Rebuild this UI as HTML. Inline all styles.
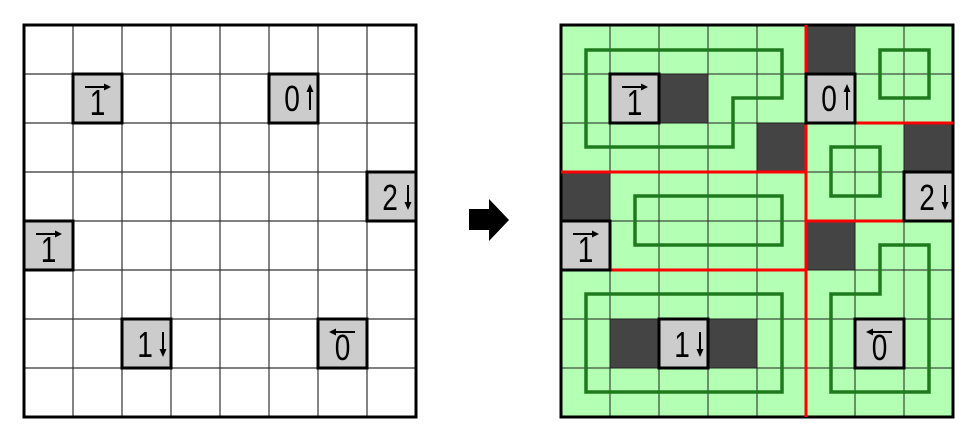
<!DOCTYPE html>
<html><head><style>
html,body{margin:0;padding:0;background:#fff;width:976px;height:440px;overflow:hidden}
text{font-family:"Liberation Sans",sans-serif;font-size:36px;fill:#000}
</style></head><body>
<svg width="976" height="440" viewBox="0 0 976 440" xmlns="http://www.w3.org/2000/svg">
<!-- LEFT GRID -->
<g stroke="#333" stroke-width="1.2">
<line x1="73" y1="25" x2="73" y2="417"/><line x1="122" y1="25" x2="122" y2="417"/><line x1="171" y1="25" x2="171" y2="417"/><line x1="220" y1="25" x2="220" y2="417"/><line x1="269" y1="25" x2="269" y2="417"/><line x1="318" y1="25" x2="318" y2="417"/><line x1="367" y1="25" x2="367" y2="417"/>
<line x1="24" y1="74" x2="416" y2="74"/><line x1="24" y1="123" x2="416" y2="123"/><line x1="24" y1="172" x2="416" y2="172"/><line x1="24" y1="221" x2="416" y2="221"/><line x1="24" y1="270" x2="416" y2="270"/><line x1="24" y1="319" x2="416" y2="319"/><line x1="24" y1="368" x2="416" y2="368"/>
</g>
<rect x="24" y="25" width="392" height="392" fill="none" stroke="#000" stroke-width="3"/>

<!-- RIGHT GRID -->
<rect x="561" y="25" width="392" height="392" fill="#b3ffb3"/>
<g fill="#444">
<rect x="659" y="74" width="49" height="49"/><rect x="757" y="123" width="49" height="49"/><rect x="561" y="172" width="49" height="49"/><rect x="806" y="25" width="49" height="49"/><rect x="904" y="123" width="49" height="49"/><rect x="806" y="221" width="49" height="49"/><rect x="610" y="319" width="49" height="49"/><rect x="708" y="319" width="49" height="49"/>
</g>
<g stroke="#222" stroke-width="1">
<line x1="610" y1="25" x2="610" y2="417"/><line x1="659" y1="25" x2="659" y2="417"/><line x1="708" y1="25" x2="708" y2="417"/><line x1="757" y1="25" x2="757" y2="417"/><line x1="806" y1="25" x2="806" y2="417"/><line x1="855" y1="25" x2="855" y2="417"/><line x1="904" y1="25" x2="904" y2="417"/>
<line x1="561" y1="74" x2="953" y2="74"/><line x1="561" y1="123" x2="953" y2="123"/><line x1="561" y1="172" x2="953" y2="172"/><line x1="561" y1="221" x2="953" y2="221"/><line x1="561" y1="270" x2="953" y2="270"/><line x1="561" y1="319" x2="953" y2="319"/><line x1="561" y1="368" x2="953" y2="368"/>
</g>
<g fill="none" stroke="#1f7a1f" stroke-width="3.5">
<polygon points="586,50 782,50 782,98 733,98 733,147 586,147"/>
<rect x="880" y="50" width="49" height="48"/>
<rect x="831" y="147" width="49" height="49"/>
<rect x="635" y="196" width="147" height="49"/>
<rect x="586" y="294" width="196" height="98"/>
<polygon points="880,245 929,245 929,392 831,392 831,294 880,294"/>
</g>
<rect x="561" y="25" width="392" height="392" fill="none" stroke="#000" stroke-width="3"/>
<g stroke="#f00" stroke-width="3">
<line x1="806" y1="25" x2="806" y2="417"/>
<line x1="561" y1="172" x2="806" y2="172"/>
<line x1="561" y1="270" x2="806" y2="270"/>
<line x1="806" y1="123" x2="953" y2="123"/>
<line x1="806" y1="221" x2="953" y2="221"/>
</g>

<!-- CLUE CELLS: right-arrow 1 -->
<g transform="translate(73,74)"><rect x="0" y="0" width="49" height="49" fill="#ccc" stroke="#000" stroke-width="3"/><line x1="12" y1="13" x2="33" y2="13" stroke="#000" stroke-width="2"/><polygon points="31,9.5 38,13 31,16.5" fill="#000"/><text transform="translate(24.5,41) scale(0.78,1)" text-anchor="middle">1</text></g>
<g transform="translate(24,221)"><rect x="0" y="0" width="49" height="49" fill="#ccc" stroke="#000" stroke-width="3"/><line x1="12" y1="13" x2="33" y2="13" stroke="#000" stroke-width="2"/><polygon points="31,9.5 38,13 31,16.5" fill="#000"/><text transform="translate(24.5,41) scale(0.78,1)" text-anchor="middle">1</text></g>
<g transform="translate(610,74)"><rect x="0" y="0" width="49" height="49" fill="#ccc" stroke="#000" stroke-width="3"/><line x1="12" y1="13" x2="33" y2="13" stroke="#000" stroke-width="2"/><polygon points="31,9.5 38,13 31,16.5" fill="#000"/><text transform="translate(24.5,41) scale(0.78,1)" text-anchor="middle">1</text></g>
<g transform="translate(561,221)"><rect x="0" y="0" width="49" height="49" fill="#ccc" stroke="#000" stroke-width="3"/><line x1="12" y1="13" x2="33" y2="13" stroke="#000" stroke-width="2"/><polygon points="31,9.5 38,13 31,16.5" fill="#000"/><text transform="translate(24.5,41) scale(0.78,1)" text-anchor="middle">1</text></g>
<!-- left arrow 0 -->
<g transform="translate(318,319)"><rect x="0" y="0" width="49" height="49" fill="#ccc" stroke="#000" stroke-width="3"/><line x1="16" y1="13" x2="37" y2="13" stroke="#000" stroke-width="2"/><polygon points="18,9.5 11,13 18,16.5" fill="#000"/><text transform="translate(24.5,41) scale(0.78,1)" text-anchor="middle">0</text></g>
<g transform="translate(855,319)"><rect x="0" y="0" width="49" height="49" fill="#ccc" stroke="#000" stroke-width="3"/><line x1="16" y1="13" x2="37" y2="13" stroke="#000" stroke-width="2"/><polygon points="18,9.5 11,13 18,16.5" fill="#000"/><text transform="translate(24.5,41) scale(0.78,1)" text-anchor="middle">0</text></g>
<!-- 0 up -->
<g transform="translate(269,74)"><rect x="0" y="0" width="49" height="49" fill="#ccc" stroke="#000" stroke-width="3"/><text transform="translate(23,37) scale(0.78,1)" text-anchor="middle">0</text><line x1="41" y1="16" x2="41" y2="36" stroke="#000" stroke-width="2"/><polygon points="37.5,18 41,10 44.5,18" fill="#000"/></g>
<g transform="translate(806,74)"><rect x="0" y="0" width="49" height="49" fill="#ccc" stroke="#000" stroke-width="3"/><text transform="translate(23,37) scale(0.78,1)" text-anchor="middle">0</text><line x1="41" y1="16" x2="41" y2="36" stroke="#000" stroke-width="2"/><polygon points="37.5,18 41,10 44.5,18" fill="#000"/></g>
<!-- down arrows -->
<g transform="translate(367,172)"><rect x="0" y="0" width="49" height="49" fill="#ccc" stroke="#000" stroke-width="3"/><text transform="translate(23,38) scale(0.78,1)" text-anchor="middle">2</text><line x1="41" y1="13" x2="41" y2="32" stroke="#000" stroke-width="2"/><polygon points="37.5,30 41,38 44.5,30" fill="#000"/></g>
<g transform="translate(904,172)"><rect x="0" y="0" width="49" height="49" fill="#ccc" stroke="#000" stroke-width="3"/><text transform="translate(23,38) scale(0.78,1)" text-anchor="middle">2</text><line x1="41" y1="13" x2="41" y2="32" stroke="#000" stroke-width="2"/><polygon points="37.5,30 41,38 44.5,30" fill="#000"/></g>
<g transform="translate(122,319)"><rect x="0" y="0" width="49" height="49" fill="#ccc" stroke="#000" stroke-width="3"/><text transform="translate(23,38) scale(0.78,1)" text-anchor="middle">1</text><line x1="41" y1="13" x2="41" y2="32" stroke="#000" stroke-width="2"/><polygon points="37.5,30 41,38 44.5,30" fill="#000"/></g>
<g transform="translate(659,319)"><rect x="0" y="0" width="49" height="49" fill="#ccc" stroke="#000" stroke-width="3"/><text transform="translate(23,38) scale(0.78,1)" text-anchor="middle">1</text><line x1="41" y1="13" x2="41" y2="32" stroke="#000" stroke-width="2"/><polygon points="37.5,30 41,38 44.5,30" fill="#000"/></g>

<!-- big arrow -->
<polygon points="469,209 489,209 489,199 509,220 489,241 489,230 469,230" fill="#000"/>
</svg>
</body></html>
